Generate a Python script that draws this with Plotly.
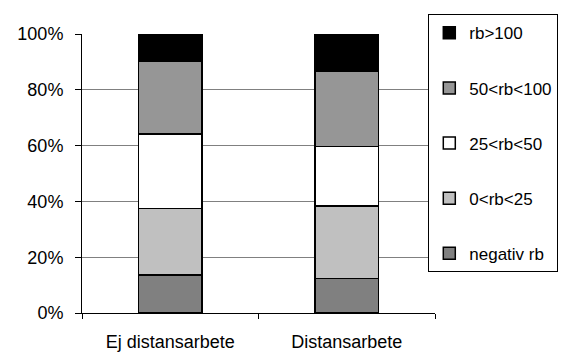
import plotly.graph_objects as go

categories = ["Ej distansarbete", "Distansarbete"]
series_names = ["negativ rb", "0<rb<25", "25<rb<50", "50<rb<100", "rb>100"]
negativ_rb = [0.137, 0.123]
rb_0_25 = [0.237, 0.260]
rb_25_50 = [0.267, 0.214]
rb_50_100 = [0.262, 0.270]
rb_over_100 = [0.097, 0.133]
colors = ["#808080", "#C0C0C0", "#FFFFFF", "#969696", "#000000"]

series_values = [negativ_rb, rb_0_25, rb_25_50, rb_50_100, rb_over_100]

FONT = "Liberation Sans, Arial, sans-serif"
fig = go.Figure()
for i, (name, vals, col) in enumerate(zip(series_names, series_values, colors)):
    fig.add_trace(go.Bar(
        x=categories, y=vals, name=name, legendgroup=name,
        legendrank=1000 - i,
        marker=dict(color=col, line=dict(color="black", width=1.5)),
    ))

fig.update_layout(
    barmode="stack",
    bargap=0.643,
    width=562, height=352,
    margin=dict(l=82, r=127, t=34, b=39, autoexpand=False),
    paper_bgcolor="white", plot_bgcolor="white",
    font=dict(family=FONT, size=18, color="black"),
    legend=dict(
        x=0.981, y=1.0706, xanchor="left", yanchor="top",
        traceorder="grouped", tracegroupgap=30,
        itemwidth=30, maxheight=400,
        bordercolor="black", borderwidth=1, bgcolor="white",
        font=dict(family=FONT, size=17, color="black"),
    ),
    xaxis=dict(
        showline=True, linecolor="black", linewidth=1,
        ticks="outside", tickson="boundaries", ticklen=5, tickcolor="black",
        showgrid=False, ticklabelstandoff=12, automargin=False,
    ),
    yaxis=dict(
        range=[0, 1], dtick=0.2, tickformat=".0%",
        showline=True, linecolor="black", linewidth=1,
        ticks="outside", ticklen=6, tickcolor="black",
        showgrid=True, gridcolor="#808080", gridwidth=1,
        zeroline=False, ticklabelstandoff=8, automargin=False,
    ),
)

fig.write_html("out.html")
